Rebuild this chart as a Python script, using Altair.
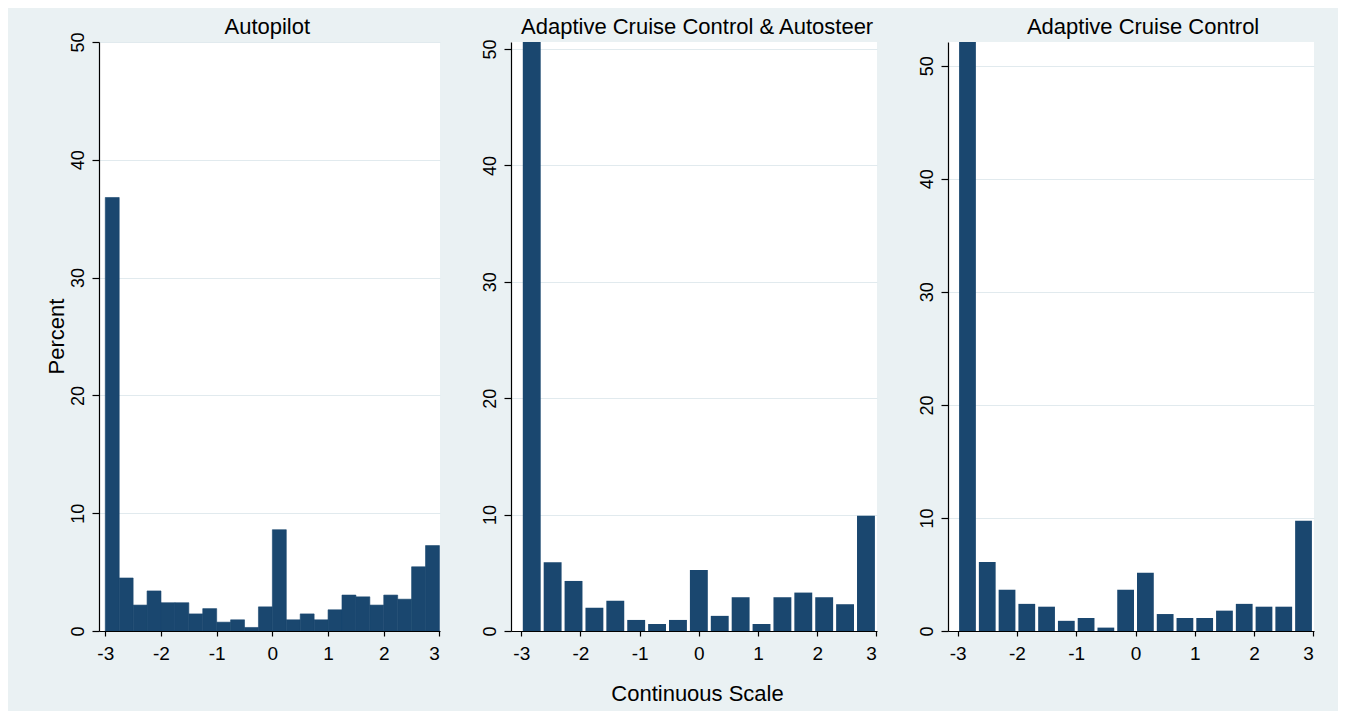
import altair as alt
import pandas as pd

# ---- data ----
panel_titles = ["Autopilot", "Adaptive Cruise Control & Autosteer", "Adaptive Cruise Control"]
x_ticks = [-3, -2, -1, 0, 1, 2, 3]
y_ticks = [0, 10, 20, 30, 40, 50]
x_min, x_max = -3, 3

autopilot_pct = [36.8, 4.5, 2.2, 3.4, 2.4, 2.4, 1.45, 1.9, 0.75, 0.95, 0.3, 2.05,
                 8.6, 0.95, 1.45, 0.95, 1.8, 3.05, 2.9, 2.2, 3.05, 2.7, 5.45, 7.25]
acc_autosteer_pct = [50.6, 5.9, 4.3, 2.0, 2.6, 0.95, 0.6, 0.95, 5.25, 1.3, 2.9, 0.6,
                     2.9, 3.3, 2.9, 2.3, 9.9]
acc_pct = [52.1, 6.1, 3.65, 2.4, 2.15, 0.9, 1.15, 0.3, 3.65, 5.15, 1.5, 1.15,
           1.15, 1.8, 2.4, 2.15, 2.15, 9.75]

NAVY = "#1a476f"
BG = "#eaf1f3"
GRID = "#e1eaee"
FONT = "Liberation Sans"


def bins(vals):
    n = len(vals)
    w = (x_max - x_min) / n
    return pd.DataFrame({
        "start": [x_min + i * w for i in range(n)],
        "end": [x_min + (i + 1) * w for i in range(n)],
        "pct": vals,
    })


def panel(vals, title, width, x_lo, first, gap, xtitle, title_x):
    df = bins(vals)
    ytop = max(max(vals), 50)
    if first:
        yaxis = alt.Axis(values=y_ticks, labelAngle=270, labelAlign="center",
                         labelBaseline="alphabetic", labelPadding=9, tickSize=7,
                         labelFontSize=18, grid=True, gridColor=GRID,
                         title="Percent", titleAngle=270, titleAlign="center",
                         titleBaseline="alphabetic", titleX=-36, titleY=294,
                         titleFontSize=22, titleFontWeight="normal")
    else:
        yaxis = alt.Axis(values=y_ticks, labelAngle=270, labelAlign="center",
                         labelBaseline="alphabetic", labelPadding=9, tickSize=7,
                         labelFontSize=18, grid=True, gridColor=GRID, title=None)
    if xtitle:
        xaxis = alt.Axis(values=x_ticks, labelExpr="datum.value + ''", tickSize=5,
                         labelPadding=8, labelFontSize=19, grid=False, zindex=1,
                         title=xtitle, titleX=186, titleY=69, titleAlign="center",
                         titleBaseline="alphabetic", titleFontSize=22,
                         titleFontWeight="normal")
    else:
        xaxis = alt.Axis(values=x_ticks, labelExpr="datum.value + ''", tickSize=5,
                         labelPadding=8, labelFontSize=19, grid=False, zindex=1,
                         title=None)
    if gap == 0:
        mk = alt.Chart(df).mark_bar(color=NAVY, stroke=NAVY, strokeWidth=0.6)
    else:
        mk = alt.Chart(df).mark_bar(color=NAVY, xOffset=gap, x2Offset=-gap)
    bars = mk.encode(
        x=alt.X("start:Q", scale=alt.Scale(domain=[x_lo, 3.01], nice=False, zero=False),
                axis=xaxis),
        x2="end:Q",
        y=alt.Y("pct:Q", scale=alt.Scale(domain=[0, ytop], nice=False), axis=yaxis),
        y2=alt.datum(0),
    )
    ttl = alt.Chart(pd.DataFrame({"t": [title]})).mark_text(
        fontSize=22, font=FONT, color="black", align="center", baseline="alphabetic"
    ).encode(text="t:N", x=alt.value(title_x), y=alt.value(-8.5))
    return alt.layer(bars, ttl).properties(width=width, height=589)


p1 = panel(autopilot_pct, panel_titles[0], 341, -3.113, True, 0, None, 168.3)
p2 = panel(acc_autosteer_pct, panel_titles[1], 366, -3.174, False, 1.5, "Continuous Scale", 186.1)
p3 = panel(acc_pct, panel_titles[2], 366, -3.162, False, 1.5, None, 195.1)

chart = alt.hconcat(p1, p2, p3, spacing=71, bounds="flush").configure(
    background=BG,
    padding={"left": 37, "top": 7, "right": 24, "bottom": 7},
    font=FONT,
).configure_view(fill="white", stroke=None).configure_axis(
    domainColor="#000000", domainWidth=1.2, tickColor="#000000", tickWidth=1.2,
    labelColor="#000000", titleColor="#000000", labelFont=FONT, titleFont=FONT,
)

chart.save("out.html", embed_options={"renderer": "svg", "actions": False})
